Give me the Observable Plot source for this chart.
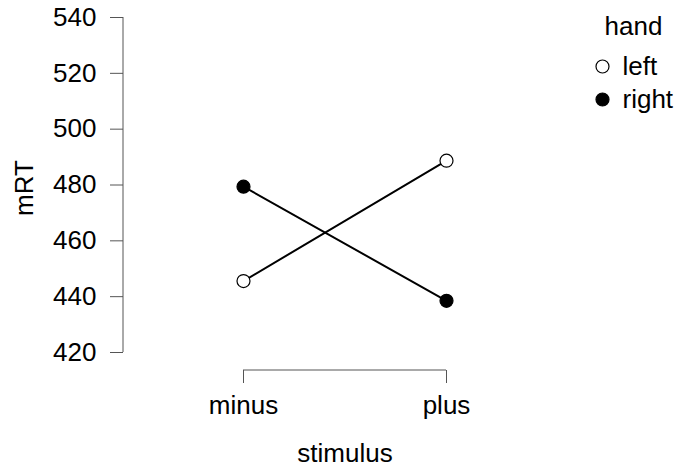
<!DOCTYPE html>
<html>
<head>
<meta charset="utf-8">
<script src="https://cdn.jsdelivr.net/npm/d3@7"></script>
<script src="https://cdn.jsdelivr.net/npm/@observablehq/plot@0.6"></script>
<style>
  html, body { margin: 0; padding: 0; background: #fff; }
  #chart svg { display: block; }
</style>
</head>
<body>
<div id="chart"></div>
<script>
const stimulus = ["minus", "plus"];
const hands = ["left", "right"];
const leftRT = [445.6, 488.7];
const rightRT = [479.4, 438.5];
const yTicks = [420, 440, 460, 480, 500, 520, 540];

const data = [];
stimulus.forEach((s, i) => {
  data.push({stimulus: s, hand: "left", mRT: leftRT[i]});
  data.push({stimulus: s, hand: "right", mRT: rightRT[i]});
});

const FONT = "'Liberation Sans', Arial, Helvetica, sans-serif";
const FS = 26;
const axisColor = "#555";

// axis lines (R-style: span only data ticks / categories)
function axisLines(index, scales, values, dims) {
  const ns = "http://www.w3.org/2000/svg";
  const g = document.createElementNS(ns, "g");
  const x0 = dims.marginLeft;
  const yb = dims.height - dims.marginBottom;
  const p1 = document.createElementNS(ns, "path");
  p1.setAttribute("d", `M${x0},${scales.y(yTicks[0])}V${scales.y(yTicks[yTicks.length - 1])}`);
  const p2 = document.createElementNS(ns, "path");
  p2.setAttribute("d", `M${scales.x(stimulus[0])},${yb}H${scales.x(stimulus[stimulus.length - 1])}`);
  for (const p of [p1, p2]) {
    p.setAttribute("stroke", axisColor);
    p.setAttribute("stroke-width", 1);
    p.setAttribute("fill", "none");
    g.appendChild(p);
  }
  return g;
}

const legendDots = hands.map((h, i) => Plot.dot([h], {
  frameAnchor: "top-right", dx: 36, dy: 49 + i * 33, r: 6.5,
  stroke: "black", strokeWidth: 1.2, fill: h === "left" ? "white" : "black"
}));
const legendTexts = hands.map((h, i) => Plot.text([h], {
  frameAnchor: "top-right", dx: 56, dy: 49 + i * 33, text: d => d,
  textAnchor: "start", lineAnchor: "middle", fontSize: FS, fill: "black"
}));

const chart = Plot.plot({
  width: 690,
  height: 467,
  marginLeft: 123,
  marginRight: 124,
  marginTop: 17,
  marginBottom: 97,
  style: {fontFamily: FONT, fontSize: FS + "px", color: "black", background: "white"},
  x: {type: "point", domain: stimulus, padding: 0.591},
  y: {domain: [420, 540], insetBottom: 18},
  marks: [
    Plot.axisY({ticks: yTicks, tickSize: 13, tickPadding: 14, label: null, stroke: axisColor, fill: "black", fontSize: FS}),
    Plot.axisX({tickSize: 13, tickPadding: 12, label: null, stroke: axisColor, fill: "black", fontSize: FS}),
    axisLines,
    Plot.text(["mRT"], {frameAnchor: "left", dx: -99, dy: -6, rotate: -90, text: d => d,
      textAnchor: "middle", lineAnchor: "middle", fontSize: FS, fill: "black"}),
    Plot.text(["stimulus"], {frameAnchor: "bottom", dy: 83.5, text: d => d,
      textAnchor: "middle", lineAnchor: "middle", fontSize: FS, fill: "black"}),
    Plot.line(data, {x: "stimulus", y: "mRT", z: "hand", stroke: "black", strokeWidth: 2}),
    Plot.dot(data, {x: "stimulus", y: "mRT", r: 6.5, stroke: "black", strokeWidth: 1.2,
      fill: d => d.hand === "left" ? "white" : "black"}),
    Plot.text(["hand"], {frameAnchor: "top-right", dx: 67, dy: 9, text: d => d,
      textAnchor: "middle", lineAnchor: "middle", fontSize: FS, fill: "black"}),
    ...legendDots,
    ...legendTexts
  ]
});
document.getElementById("chart").appendChild(chart);
</script>
</body>
</html>
